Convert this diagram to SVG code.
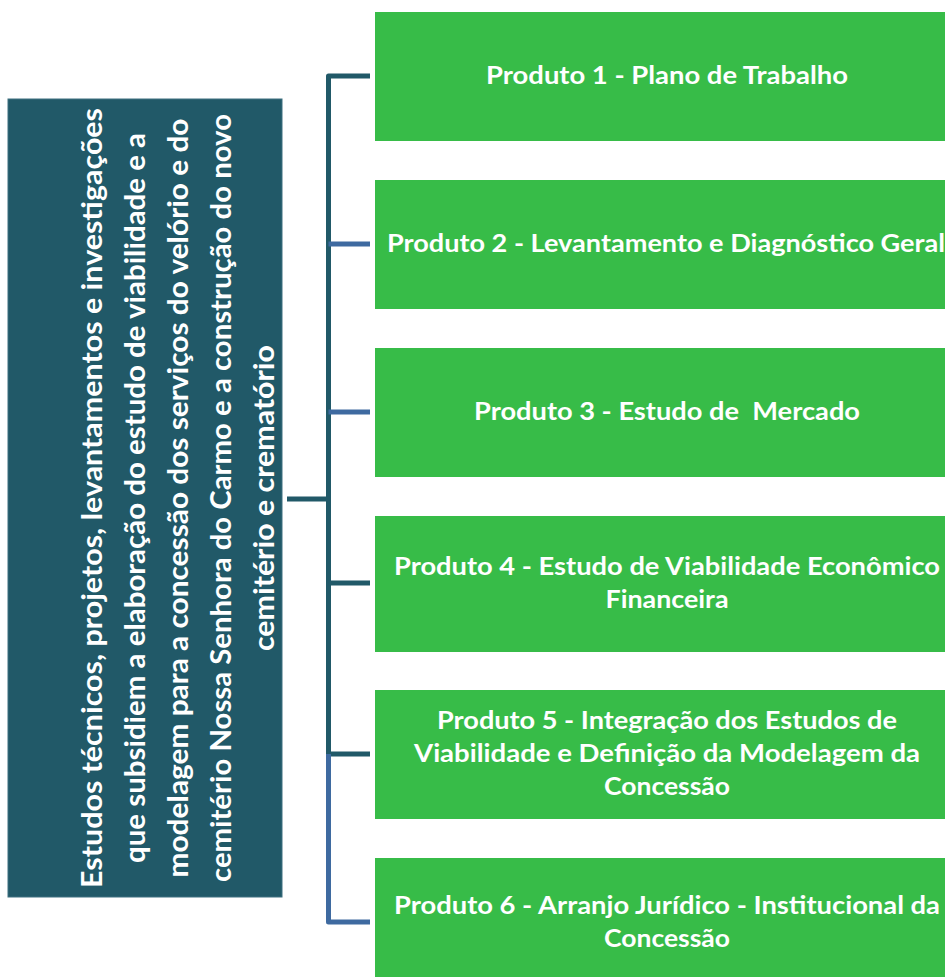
<svg xmlns="http://www.w3.org/2000/svg" width="945" height="977" viewBox="0 0 945 977">
  <style>
    .box { fill: #37BC48; }
    .lbl { font-family: Lato, "Open Sans", "Liberation Sans", sans-serif; font-weight: bold; font-size: 24px; fill: #FFFFFF; text-anchor: middle; }
    .main { font-family: Lato, "Open Sans", "Liberation Sans", sans-serif; font-weight: bold; font-size: 28px; fill: #FFFFFF; text-anchor: middle; }
    .teal { fill: none; stroke: #215968; stroke-width: 5; stroke-linejoin: round; }
    .blue { fill: none; stroke: #3E6AA0; stroke-width: 5; stroke-linejoin: round; }
  </style>
  <rect width="945" height="977" fill="#FFFFFF"/>

  <g id="root">
    <rect x="8" y="99" width="274" height="798" fill="#215968" stroke="#3E7080" stroke-width="1"/>
    <g transform="rotate(-90)">
      <text class="main" x="-498" y="102" textLength="780" lengthAdjust="spacingAndGlyphs">Estudos técnicos, projetos, levantamentos e investigações</text>
      <text class="main" x="-498" y="145" textLength="730" lengthAdjust="spacingAndGlyphs">que subsidiem a elaboração do estudo de viabilidade e a</text>
      <text class="main" x="-498" y="188" textLength="759" lengthAdjust="spacingAndGlyphs">modelagem para a concessão dos serviços do velório e do</text>
      <text class="main" x="-498" y="231" textLength="768" lengthAdjust="spacingAndGlyphs">cemitério Nossa Senhora do Carmo e a construção do novo</text>
      <text class="main" x="-498" y="274" textLength="306" lengthAdjust="spacingAndGlyphs">cemitério e crematório</text>
    </g>
  </g>

  <g id="connectors">
    <path class="teal" d="M287,499 H328.5"/>
    <path class="teal" d="M370,76 H328.5 V754 H370"/>
    <path class="blue" d="M328.5,244 H370"/>
    <path class="blue" d="M328.5,412 H370"/>
    <path class="teal" d="M328.5,583 H370"/>
    <path class="blue" d="M328.5,754 V922 H370"/>
  </g>

  <g id="produto1">
    <rect class="box" x="375" y="12" width="584" height="129"/>
    <text class="lbl" x="667" y="84" textLength="362" lengthAdjust="spacingAndGlyphs">Produto 1 - Plano de Trabalho</text>
  </g>
  <g id="produto2">
    <rect class="box" x="375" y="180" width="584" height="129"/>
    <text class="lbl" x="666" y="252" textLength="558" lengthAdjust="spacingAndGlyphs">Produto 2 - Levantamento e Diagnóstico Geral</text>
  </g>
  <g id="produto3">
    <rect class="box" x="375" y="348" width="584" height="129"/>
    <text class="lbl" x="667" y="420" textLength="386" lengthAdjust="spacingAndGlyphs" xml:space="preserve">Produto 3 - Estudo de  Mercado</text>
  </g>
  <g id="produto4">
    <rect class="box" x="375" y="516" width="584" height="136"/>
    <text class="lbl" x="667" y="575" textLength="546" lengthAdjust="spacingAndGlyphs">Produto 4 - Estudo de Viabilidade Econômico</text>
    <text class="lbl" x="667" y="608" textLength="123" lengthAdjust="spacingAndGlyphs">Financeira</text>
  </g>
  <g id="produto5">
    <rect class="box" x="375" y="690" width="584" height="129"/>
    <text class="lbl" x="667" y="729" textLength="460" lengthAdjust="spacingAndGlyphs">Produto 5 - Integração dos Estudos de</text>
    <text class="lbl" x="667" y="762" textLength="506" lengthAdjust="spacingAndGlyphs">Viabilidade e Definição da Modelagem da</text>
    <text class="lbl" x="667" y="795" textLength="126" lengthAdjust="spacingAndGlyphs">Concessão</text>
  </g>
  <g id="produto6">
    <rect class="box" x="375" y="858" width="584" height="129"/>
    <text class="lbl" x="667" y="914" textLength="546" lengthAdjust="spacingAndGlyphs">Produto 6 - Arranjo Jurídico - Institucional da</text>
    <text class="lbl" x="667" y="947" textLength="126" lengthAdjust="spacingAndGlyphs">Concessão</text>
  </g>
</svg>
